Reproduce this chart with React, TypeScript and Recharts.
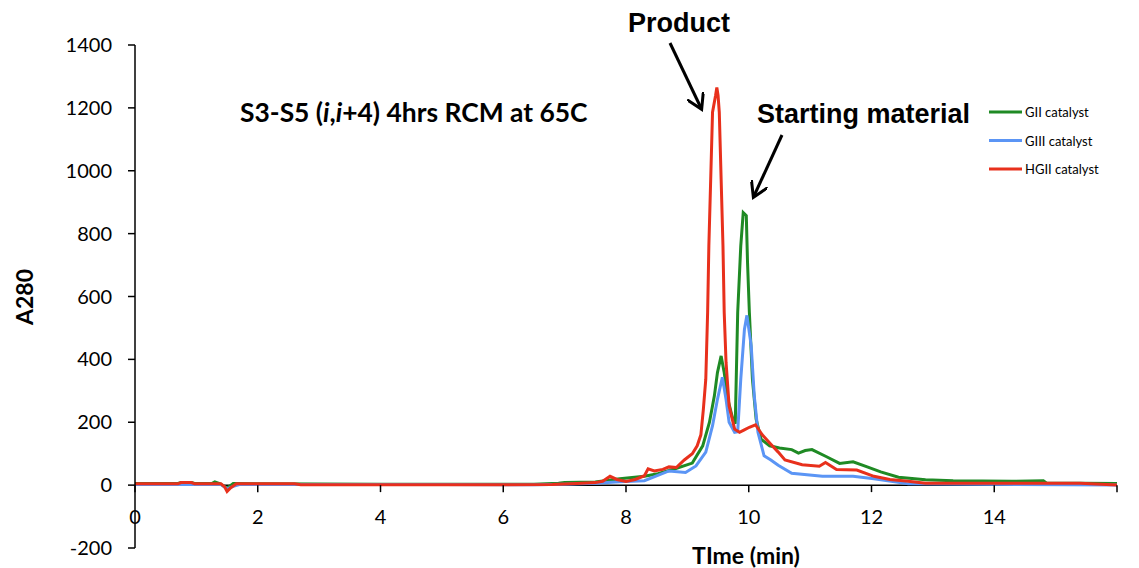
import { LineChart, Line, XAxis, YAxis, ReferenceLine } from 'recharts'

const W = 1139
const H = 568
const TOP = 45
const X_AXIS_H = 20
const PLOT_H = H - TOP - X_AXIS_H
const Y_MIN = -200
const Y_MAX = 1400
const ZERO_Y = TOP + (PLOT_H * Y_MAX) / (Y_MAX - Y_MIN)

const xTicks = [0, 2, 4, 6, 8, 10, 12, 14, 16]
const yTicks = [-200, 0, 200, 400, 600, 800, 1000, 1200, 1400]

// GII catalyst
const giiTime = [0, 0.7, 0.75, 0.92, 0.97, 1.25, 1.3, 1.38, 1.5, 1.6, 4, 5, 6.5, 6.9, 7, 7.5, 7.9, 8.3, 8.52, 8.8, 9.08, 9.25, 9.36, 9.44, 9.49, 9.55, 9.6, 9.66, 9.74, 9.78, 9.82, 9.87, 9.91, 9.96, 9.98, 10.01, 10.06, 10.12, 10.2, 10.34, 10.5, 10.7, 10.81, 10.92, 11.03, 11.26, 11.48, 11.7, 11.93, 12.15, 12.44, 12.88, 13.33, 14.28, 14.8, 14.85, 16]
const giiValue = [5, 5, 8, 8, 5, 5, 10, 5, -10, 5, 3, 3, 3, 6, 8, 10, 20, 28, 36, 52, 70, 125, 200, 284, 358, 411, 358, 273, 210, 195, 550, 761, 867, 857, 709, 550, 337, 210, 146, 125, 118, 113, 102, 110, 113, 91, 69, 74, 58, 42, 25, 17, 14, 12, 14, 7, 5]

// GIII catalyst
const giiiTime = [0, 1.4, 1.5, 1.6, 1.7, 5, 6.5, 7, 7.5, 7.9, 8.3, 8.7, 8.97, 9.14, 9.3, 9.41, 9.49, 9.57, 9.63, 9.68, 9.77, 9.82, 9.87, 9.93, 9.97, 10.04, 10.09, 10.15, 10.25, 10.36, 10.48, 10.7, 11.2, 11.7, 12.04, 12.6, 16]
const giiiValue = [2, 2, -12, -4, 2, 2, 1, 3, 6, 11, 14, 45, 40, 61, 105, 189, 273, 343, 273, 200, 168, 170, 337, 496, 540, 443, 284, 168, 93, 80, 63, 38, 28, 28, 20, 4, 0]

// HGII catalyst
const hgiiTime = [0, 0.7, 0.75, 0.92, 0.97, 1.4, 1.46, 1.5, 1.56, 1.65, 2.6, 2.7, 4, 6, 6.8, 7.2, 7.5, 7.62, 7.74, 7.85, 8, 8.15, 8.3, 8.36, 8.46, 8.6, 8.7, 8.82, 8.95, 9.08, 9.16, 9.22, 9.26, 9.3, 9.33, 9.35, 9.38, 9.41, 9.46, 9.48, 9.5, 9.52, 9.55, 9.58, 9.6, 9.63, 9.68, 9.77, 9.85, 9.92, 10.01, 10.11, 10.22, 10.36, 10.48, 10.59, 10.87, 11.15, 11.25, 11.43, 11.76, 12.04, 12.3, 12.6, 12.88, 14, 15.4, 16]
const hgiiValue = [4, 4, 8, 8, 4, 4, -5, -20, -8, 4, 4, 1, 1, 1, 2, 5, 8, 12, 28, 18, 12, 18, 30, 52, 45, 50, 58, 56, 80, 100, 125, 160, 240, 337, 550, 761, 973, 1186, 1240, 1265, 1240, 1186, 973, 761, 550, 391, 252, 178, 168, 175, 184, 192, 160, 130, 105, 80, 65, 60, 72, 50, 48, 28, 18, 12, 6, 6, 6, 0]

const toPoints = (ts: number[], vs: number[]) => ts.map((t, i) => ({ t, v: vs[i] }))

const series = [
  { name: 'GII catalyst', color: '#1f8a24', data: toPoints(giiTime, giiValue) },
  { name: 'GIII catalyst', color: '#5b95f5', data: toPoints(giiiTime, giiiValue) },
  { name: 'HGII catalyst', color: '#e8301c', data: toPoints(hgiiTime, hgiiValue) },
]

const tickFont = 'Lato, "Open Sans", sans-serif'
const boldFont = '"Liberation Sans", Arial, sans-serif'

// x axis crosses at y = 0, so ticks are drawn up at the zero line
const renderXTick = (props: any) => {
  const { x, payload } = props
  return (
    <g>
      <line x1={x} x2={x} y1={ZERO_Y} y2={ZERO_Y + 7} stroke="#000" strokeWidth={1.5} />
      {payload.value < 16 && (
        <text x={x} y={524} textAnchor="middle" fontSize={20} fontFamily={tickFont} fill="#000">
          {payload.value}
        </text>
      )}
    </g>
  )
}

export default function App() {
  return (
    <div style={{ position: 'absolute', left: 0, top: 0, width: W, height: H, background: '#fff' }}>
      <LineChart width={W} height={H} margin={{ top: TOP, right: 22, bottom: 0, left: 0 }}>
        <XAxis
          type="number"
          dataKey="t"
          domain={[0, 16]}
          ticks={xTicks}
          height={X_AXIS_H}
          axisLine={false}
          tickLine={false}
          tick={renderXTick}
          interval={0}
          allowDataOverflow
        />
        <YAxis
          type="number"
          domain={[Y_MIN, Y_MAX]}
          ticks={yTicks}
          width={135}
          interval={0}
          axisLine={{ stroke: '#000', strokeWidth: 1.5 }}
          tickLine={{ stroke: '#000', strokeWidth: 1.5 }}
          tickSize={7}
          tickMargin={16}
          tick={{ fill: '#000', fontSize: 20, fontFamily: tickFont }}
        />
        <ReferenceLine y={0} stroke="#000" strokeWidth={1.5} />
        {series.map((s) => (
          <Line
            key={s.name}
            data={s.data}
            dataKey="v"
            name={s.name}
            type="linear"
            stroke={s.color}
            strokeWidth={3}
            dot={false}
            activeDot={false}
            isAnimationActive={false}
          />
        ))}
      </LineChart>

      <svg width={W} height={H} style={{ position: 'absolute', left: 0, top: 0, pointerEvents: 'none' }}>
        <defs>
          <marker id="head" markerWidth="6" markerHeight="6" refX="4.5" refY="3" orient="auto" markerUnits="strokeWidth">
            <path d="M0,0 L5,3 L0,6" fill="none" stroke="#000" strokeWidth={1} />
          </marker>
        </defs>
        <text x={24} y={297} transform="rotate(-90 24 297)" textAnchor="middle" dominantBaseline="central" fontSize={23} fontWeight="bold" fontFamily={tickFont} fill="#000">
          A280
        </text>
        <text x={746} y={564} textAnchor="middle" fontSize={23} fontWeight="bold" fontFamily={tickFont} fill="#000">
          TIme (min)
        </text>
        <text x={240} y={122} fontSize={26.4} fontWeight="bold" fontFamily={tickFont} fill="#000">
          S3-S5 (<tspan fontStyle="italic">i</tspan>,<tspan fontStyle="italic">i</tspan>+4) 4hrs RCM at 65C
        </text>
        <text x={628} y={32} fontSize={27} fontWeight="bold" fontFamily={boldFont} fill="#000">
          Product
        </text>
        <text x={757} y={123} fontSize={27} fontWeight="bold" fontFamily={boldFont} fill="#000">
          Starting material
        </text>
        <line x1={670} y1={43} x2={701} y2={108} stroke="#000" strokeWidth={3} markerEnd="url(#head)" />
        <line x1={782} y1={135} x2={754} y2={196} stroke="#000" strokeWidth={3} markerEnd="url(#head)" />
        {series.map((s, i) => (
          <g key={s.name}>
            <line x1={989} x2={1022} y1={112 + i * 28.5} y2={112 + i * 28.5} stroke={s.color} strokeWidth={3} />
            <text x={1025} y={112 + i * 28.5} dominantBaseline="central" fontSize={13} fontFamily={tickFont} fill="#000">
              {s.name}
            </text>
          </g>
        ))}
      </svg>
    </div>
  )
}
